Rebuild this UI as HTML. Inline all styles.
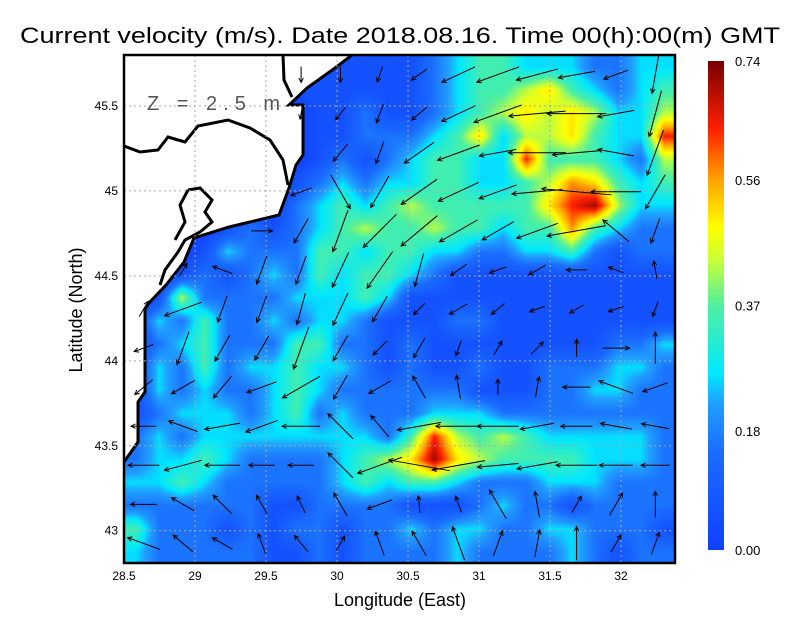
<!DOCTYPE html>
<html><head><meta charset="utf-8"><style>
body{margin:0;background:#fff;width:800px;height:618px;overflow:hidden;position:relative;font-family:"Liberation Sans",sans-serif}
#heat{position:absolute;left:124px;top:55px}
#ov{position:absolute;left:0;top:0}
</style></head><body>
<canvas id="heat" width="551" height="508"></canvas>
<svg id="ov" width="800" height="618">
<defs><linearGradient id="cb" x1="0" y1="1" x2="0" y2="0">
<stop offset="0" stop-color="#1040ff"/><stop offset="0.2" stop-color="#1a6cff"/><stop offset="0.3" stop-color="#20a0ff"/><stop offset="0.36" stop-color="#00e8ff"/><stop offset="0.5" stop-color="#50f0a0"/><stop offset="0.6" stop-color="#d0ff30"/><stop offset="0.66" stop-color="#ffff00"/><stop offset="0.76" stop-color="#ffa000"/><stop offset="0.86" stop-color="#ff2000"/><stop offset="1" stop-color="#780000"/></linearGradient>
<clipPath id="pc"><rect x="124" y="55" width="551" height="508"/></clipPath></defs>
<text x="400" y="43" text-anchor="middle" font-size="22" textLength="760" lengthAdjust="spacingAndGlyphs">Current velocity (m/s). Date 2018.08.16. Time 00(h):00(m) GMT</text>
<g id="land" clip-path="url(#pc)">
<path d="M124,55 L352,55 L335,68 L307,88 L289,105 L303,105 L303,155 L296,165 L289,188 L279,215 L229,227 L194,238 L184,262 L166,285 L149,303 L145,309 L145,392 L138,402 L138,442 L124,462 Z" fill="#fff"/>
<path d="M352,55 L335,68 L307,88 L289,105 L303,105 L303,155 L296,165 L289,188 L279,215 L229,227 L194,238 L184,262 L166,285 L149,303 L145,309 L145,392 L138,402 L138,442 L124,462" fill="none" stroke="#000" stroke-width="3"/>
<path d="M124,146 L140,152 L158,150 L168,137 L185,142 L198,126 L228,120 L250,128 L270,140 L283,160 L288,185 M283,55 L284,80 L292,97 M188,190 L200,188 L212,200 L205,212 L212,222 L200,232 L185,240 L178,252 L165,270 L160,285 M188,190 L180,205 L185,222 L175,240" fill="none" stroke="#000" stroke-width="3"/>
</g>
<g id="grid" stroke="#aaa" stroke-dasharray="2,3" stroke-width="1"></g>
<g id="arrows" clip-path="url(#pc)" stroke="#000" stroke-width="1" fill="none"></g>
<text x="147" y="110" font-size="20" fill="#555" letter-spacing="6">Z = 2.5 m</text>
<rect x="124" y="55" width="551" height="508" fill="none" stroke="#000" stroke-width="2.5"/>
<g id="xt" font-size="12" text-anchor="middle"></g>
<g id="yt" font-size="12" text-anchor="end"></g>
<text x="400" y="606" text-anchor="middle" font-size="18">Longitude (East)</text>
<text transform="translate(82,310) rotate(-90)" text-anchor="middle" font-size="18">Latitude (North)</text>
<rect x="708" y="61" width="16" height="489" fill="url(#cb)"/>
<g id="cbt" font-size="13"></g>
</svg>
<script>
const xTicks=[28.5,29,29.5,30,30.5,31,31.5,32];
const yTicks=[43,43.5,44,44.5,45,45.5];
const cbTicks=[0.00,0.18,0.37,0.56,0.74];
const levels=[0,0.06,0.16,0.26,0.35,0.43,0.51,0.57,0.64,0.71];
const grid=[
[0,0,0,0,0,0,0,1,1,1,1,1,1,2,3,4,4,3,3,3,2,2,3,3],
[0,0,0,0,0,0,0,1,1,1,1,1,1,2,3,4,4,5,6,4,3,2,3,4],
[0,0,0,0,0,0,0,0,1,1,2,1,1,2,3,4,5,6,5,6,5,3,3,5],
[0,0,0,0,0,0,0,0,1,1,2,2,2,3,4,6,3,5,5,6,4,3,3,8],
[0,0,0,0,0,0,0,0,1,2,1,2,3,4,4,3,3,8,4,4,4,3,2,5],
[0,0,0,0,0,0,0,1,2,3,2,3,3,4,4,3,3,4,5,7,6,4,3,4],
[0,0,0,0,0,0,0,2,3,4,3,4,5,4,4,4,4,4,6,8,9,5,3,3],
[0,0,0,0,1,2,1,2,3,4,5,4,4,5,4,4,3,4,4,7,4,3,2,2],
[0,0,0,1,3,2,2,2,4,4,3,4,4,3,3,2,2,3,3,4,2,1,2,2],
[0,0,1,2,1,2,3,2,4,3,4,4,3,2,1,1,1,1,1,1,1,1,1,1],
[0,1,5,2,2,2,2,3,3,3,4,3,1,1,1,1,1,1,1,1,1,1,1,1],
[1,3,2,4,2,2,3,2,3,3,2,1,1,1,2,2,1,1,1,1,1,1,1,1],
[1,2,3,4,2,2,2,4,4,2,2,1,2,1,1,1,1,1,1,1,1,2,2,3],
[1,3,2,4,2,3,3,4,3,3,2,1,2,1,1,2,1,1,2,2,2,3,3,2],
[1,3,2,3,2,2,3,4,3,2,2,2,2,2,2,1,1,1,2,2,3,3,2,2],
[1,2,3,3,3,2,3,4,2,3,2,2,2,3,3,3,2,2,2,2,2,2,2,2],
[2,3,2,3,3,3,3,3,3,3,3,2,4,8,5,4,5,4,3,3,3,3,3,2],
[2,3,3,4,3,2,2,2,2,3,4,5,6,9,6,5,4,4,4,4,3,3,3,2],
[3,3,4,3,2,2,2,2,2,3,4,3,4,4,3,2,2,2,3,3,3,2,2,2],
[2,2,2,2,2,2,1,1,2,2,2,2,1,1,1,2,3,2,2,1,2,2,2,2],
[4,2,2,2,1,2,1,2,2,1,2,2,3,2,3,3,2,2,3,3,2,2,2,1],
[3,2,2,2,2,2,1,1,2,1,2,2,2,2,3,2,2,2,2,3,2,1,2,2]];
const N=null;
const angles=[
[N,N,N,N,270,270,250,215,205,200,195,190,200,260],
[N,N,N,N,260,230,250,220,205,200,185,180,190,255],
[N,N,N,N,N,230,250,215,200,190,180,185,170,250],
[N,N,N,N,200,300,240,215,205,200,185,175,180,240],
[N,N,N,0,240,250,225,220,210,210,200,190,140,250],
[N,60,160,250,250,245,235,255,215,200,210,180,160,100],
[60,200,250,250,255,245,240,225,210,220,200,210,200,250],
[200,250,240,240,250,240,225,240,250,60,45,90,0,90],
[220,210,230,200,210,240,210,120,100,90,80,180,160,200],
[180,160,190,200,180,135,130,190,180,180,190,180,170,170],
[180,195,180,180,180,135,200,170,190,185,190,180,180,180],
[180,150,135,120,115,120,200,95,110,120,100,60,60,90],
[160,140,150,110,130,60,110,120,110,70,80,90,60,70]];
const X0=124,Y0=55,W=551,H=508,LON0=28.5,LON1=32.38,LAT0=42.81,LAT1=45.8,VMAX=0.74;
const xs=v=>X0+(v-LON0)/(LON1-LON0)*W, ys=v=>Y0+(LAT1-v)/(LAT1-LAT0)*H;
const stops=[[0,[16,64,255]],[0.2,[26,108,255]],[0.3,[32,160,255]],[0.36,[0,232,255]],[0.5,[80,240,160]],[0.6,[208,255,48]],[0.66,[255,255,0]],[0.76,[255,160,0]],[0.86,[255,32,0]],[1,[120,0,0]]];
function cmap(t){t=Math.max(0,Math.min(1,t));for(let i=1;i<stops.length;i++){if(t<=stops[i][0]){const a=stops[i-1],b=stops[i],f=(t-a[0])/(b[0]-a[0]);return a[1].map((c,k)=>c+(b[1][k]-c)*f);}}return stops[stops.length-1][1];}
const R=grid.length,C=grid[0].length;
function speedAt(px,py){const gx=px/W*C-0.5,gy=py/H*R-0.5;const x0=Math.max(0,Math.min(C-1,Math.floor(gx))),y0=Math.max(0,Math.min(R-1,Math.floor(gy)));const x1=Math.min(C-1,x0+1),y1=Math.min(R-1,y0+1);const fx=Math.max(0,Math.min(1,gx-x0)),fy=Math.max(0,Math.min(1,gy-y0));const g=(r,c)=>levels[grid[r][c]];return (g(y0,x0)*(1-fx)+g(y0,x1)*fx)*(1-fy)+(g(y1,x0)*(1-fx)+g(y1,x1)*fx)*fy;}
const ctx=document.getElementById('heat').getContext('2d');const img=ctx.createImageData(W,H);
for(let y=0;y<H;y++)for(let x=0;x<W;x++){const c=cmap(speedAt(x,y)/VMAX);const i=(y*W+x)*4;img.data[i]=c[0];img.data[i+1]=c[1];img.data[i+2]=c[2];img.data[i+3]=255;}
ctx.putImageData(img,0,0);
const NS='http://www.w3.org/2000/svg';
function mk(t,a,p){const e=document.createElementNS(NS,t);for(const k in a)e.setAttribute(k,a[k]);p.appendChild(e);return e;}
const gG=document.getElementById('grid'),xt=document.getElementById('xt'),yt=document.getElementById('yt'),cbt=document.getElementById('cbt'),ar=document.getElementById('arrows');
xTicks.forEach(v=>{const x=xs(v);if(v>LON0){const l=mk('line',{x1:x,y1:Y0,x2:x,y2:Y0+H},gG);}
const t=mk('text',{x:x,y:580},xt);t.textContent=v;});
yTicks.forEach(v=>{const y=ys(v);const l=mk('line',{x1:X0,y1:y,x2:X0+W,y2:y},gG);
const t=mk('text',{x:118,y:y+4},yt);t.textContent=v;});
cbTicks.forEach(v=>{const y=550-v/VMAX*489;const t=mk('text',{x:735,y:y+5},cbt);t.textContent=v.toFixed(2);});
const AR=angles.length,AC=angles[0].length;
for(let j=0;j<AR;j++)for(let i=0;i<AC;i++){const a=angles[j][i];if(a===null)continue;
const cx=X0+(i+0.5)*W/AC,cy=Y0+(j+0.5)*H/AR;const s=speedAt(cx-X0,cy-Y0);const L=10+s*100;const r=a*Math.PI/180;const dx=Math.cos(r),dy=-Math.sin(r);
const x1=cx-dx*L/2,y1=cy-dy*L/2,x2=cx+dx*L/2,y2=cy+dy*L/2;const h=5;
const hx1=x2-h*(dx*0.9-dy*0.45),hy1=y2-h*(dy*0.9+dx*0.45),hx2=x2-h*(dx*0.9+dy*0.45),hy2=y2-h*(dy*0.9-dx*0.45);
const p=mk('path',{d:`M${x1},${y1}L${x2},${y2}M${hx1},${hy1}L${x2},${y2}L${hx2},${hy2}`},ar);

}
</script>
</body></html>
